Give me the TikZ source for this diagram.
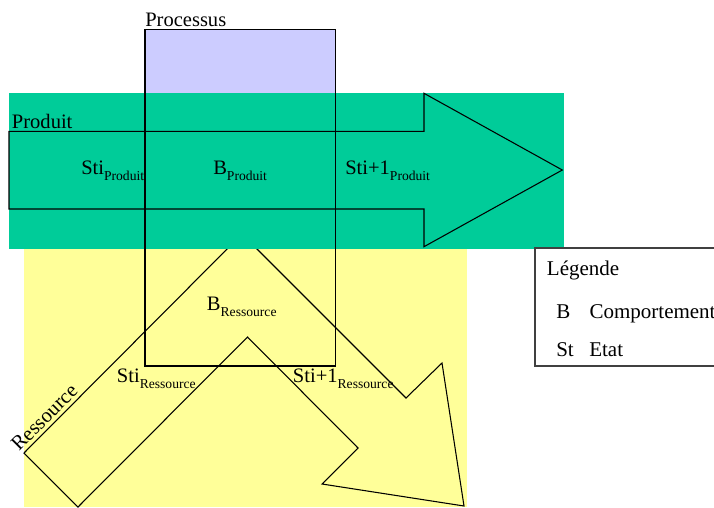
\documentclass[tikz,border=0pt]{standalone}
\usepackage{fontspec}
\setmainfont{Liberation Serif}
\definecolor{prodgreen}{RGB}{0,204,153}
\definecolor{resyellow}{RGB}{255,255,153}
\definecolor{proclav}{RGB}{204,204,255}
\definecolor{legendline}{RGB}{64,64,64}
\newcommand\subtxt[1]{\raisebox{-4.5pt}{\fontsize{10.2}{12}\selectfont #1}}
\begin{document}
\begin{tikzpicture}[x=0.75pt,y=-0.75pt,
  lbl/.style={inner sep=0pt, anchor=base west, font=\fontsize{15.4}{18}\selectfont},
  leglbl/.style={inner sep=0pt, anchor=base west, font=\fontsize{15.75}{18}\selectfont},
  outline/.style={draw=black, line width=0.8pt, line join=miter}]
\useasboundingbox (0,0) rectangle (714,507);
\clip (0,0) rectangle (714,507);
% backgrounds
\fill[proclav] (145,29.5) rectangle (335.5,93);
\fill[resyellow] (24,248) rectangle (467,507);
% Ressource bent arrow
\draw[outline] (242,234) -- (24,453) -- (78,507) -- (247.5,337) -- (358,448) -- (322,484)
  -- (464,506) -- (442,363) -- (406,398) -- cycle;
% Produit band
\fill[prodgreen] (9,93) rectangle (564,248.5);
\draw[outline] (9,131.3) -- (424,131.3) -- (424,93.3) -- (562.3,170) -- (424,246.7)
  -- (424,209) -- (9,209) -- cycle;
% Processus box
\draw[outline] (145,29.5) rectangle (335.5,366);
% labels
\node[lbl] (proc) at (145,26) {Processus};
\node[lbl] (prod) at (11.7,128) {Produit};
\node[lbl] (stip) at (81,174) {Sti\subtxt{Produit}};
\node[lbl] (bp) at (213,174) {B\subtxt{Produit}};
\node[lbl] (stinp) at (345,174) {Sti+1\subtxt{Produit}};
\node[lbl] (br) at (206.7,310.7) {B\subtxt{Ressource}};
\node[lbl] (stir) at (116.7,382.7) {Sti\subtxt{Ressource}};
\node[lbl] (stinr) at (292.7,382.7) {Sti+1\subtxt{Ressource}};
\node[lbl, rotate=45] (res) at (19,452) {Ressource};
% legend
\draw[legendline, line width=0.8pt] (535,248) rectangle (720,366);
\node[leglbl] (leg) at (546.7,275) {Légende};
\node[leglbl] (legB) at (556,318) {B};
\node[leglbl] (legBt) at (589.3,318) {Comportement};
\node[leglbl] (legSt) at (556,356.7) {St};
\node[leglbl] (legStt) at (589,356.7) {Etat};
\end{tikzpicture}
\end{document}
